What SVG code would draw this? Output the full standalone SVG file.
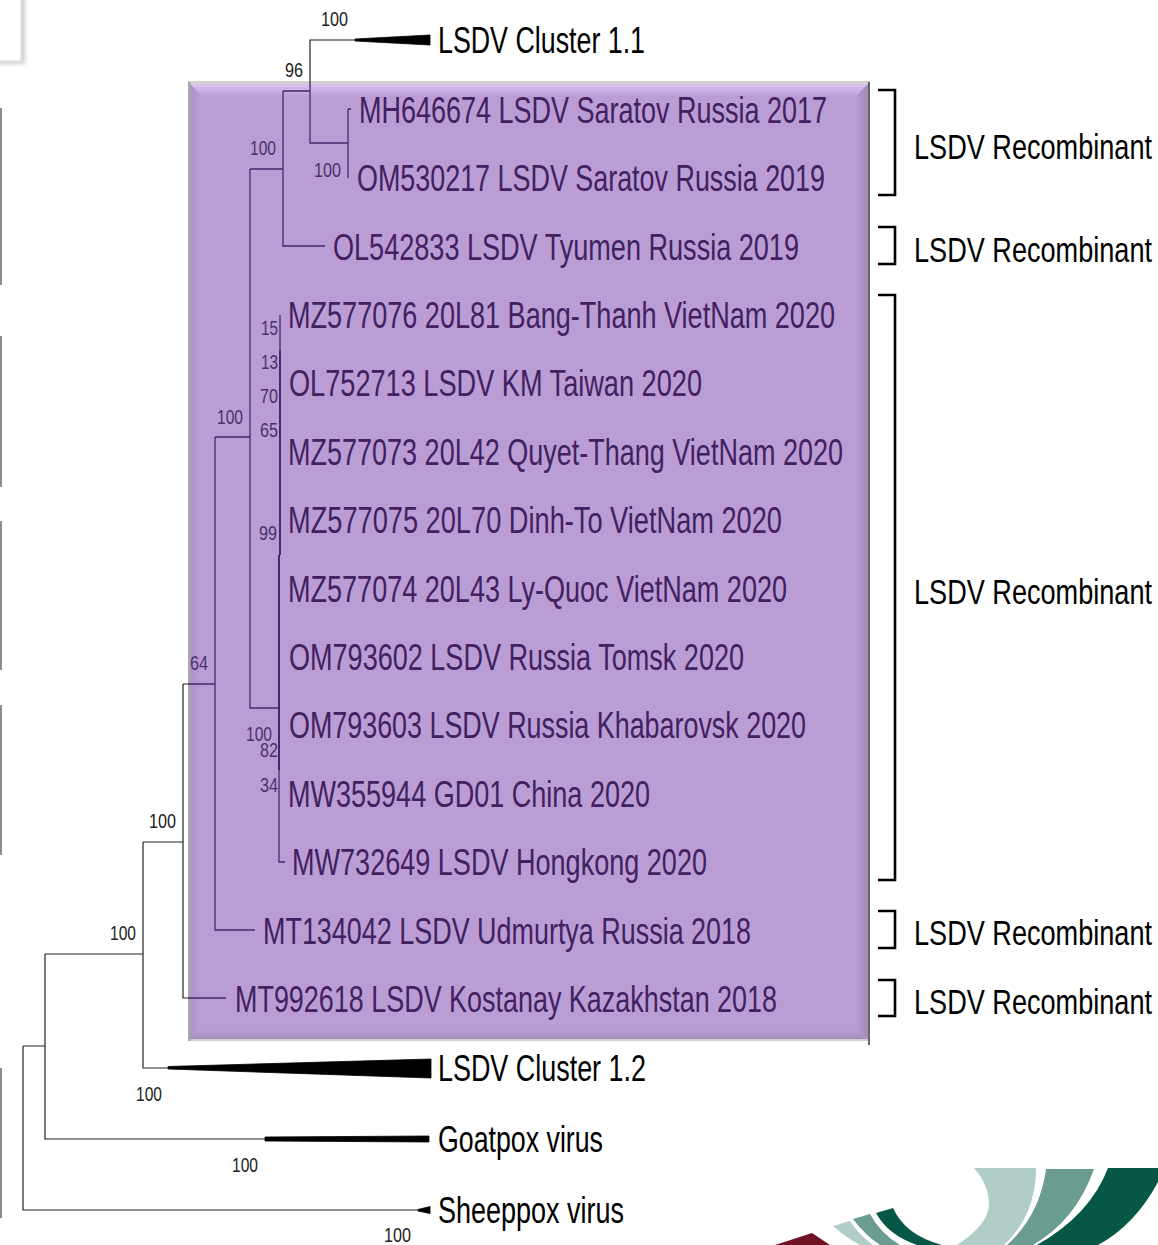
<svg xmlns="http://www.w3.org/2000/svg" width="1158" height="1245" viewBox="0 0 1158 1245">
<style>
.t{font-family:"Liberation Sans",Arial,sans-serif;font-size:36px;fill:#000}
.r{font-family:"Liberation Sans",Arial,sans-serif;font-size:35.5px;fill:#000}
.p{fill:#41215f}
.n{font-family:"Liberation Sans",Arial,sans-serif;font-size:20px;fill:#222}
.q{fill:#4a3168}
.l{fill:none;stroke:#222;stroke-width:1.2}
.i{fill:none;stroke:#44286a;stroke-width:1.3}
.b{fill:none;stroke:#000;stroke-width:2.6}
.w{fill:#000;stroke:#000;stroke-width:.8}
.m{fill:#8c8c8c}
</style>
<defs>
<linearGradient id="top" x1="0" y1="0" x2="0" y2="1"><stop offset="0" stop-color="#dcc4f2"/><stop offset="1" stop-color="#bd9fd9"/></linearGradient>
<linearGradient id="bot" x1="0" y1="0" x2="0" y2="1"><stop offset="0" stop-color="#bb9dd6"/><stop offset="1" stop-color="#a48dba"/></linearGradient>
<linearGradient id="rgt" x1="0" y1="0" x2="1" y2="0"><stop offset="0" stop-color="#bb9dd6"/><stop offset="1" stop-color="#a08ab2"/></linearGradient>
<linearGradient id="lft" x1="0" y1="0" x2="1" y2="0"><stop offset="0" stop-color="#ab90c8"/><stop offset="1" stop-color="#bb9dd6"/></linearGradient>
<filter id="sh" x="-30%" y="-30%" width="160%" height="160%"><feGaussianBlur stdDeviation="2"/></filter>
</defs>

<g id="margin">
<rect x="-10" y="-10" width="35" height="74" fill="#cfcfcf" filter="url(#sh)"/>
<rect x="-10" y="-10" width="31" height="71" fill="#fff" stroke="#e6e6e6" stroke-width="1.5"/>
<rect class="m" x="0" y="108" width="2" height="177"/>
<rect class="m" x="0" y="336" width="2" height="151"/>
<rect class="m" x="0" y="521" width="2" height="149"/>
<rect class="m" x="0" y="705" width="2" height="150"/>
<rect class="m" x="0" y="1068" width="2" height="150"/>
</g>

<g id="logo">
<path d="M974 1168L1036 1168Q1036 1215 1004 1245L957 1245Q988 1225 989 1205Q989 1185 974 1168Z" fill="#b1cdc7"/>
<path d="M1046 1169L1094 1169Q1076 1220 1033 1245L1007 1245Q1040 1215 1046 1169Z" fill="#6b9c90"/>
<path d="M1108 1168L1158 1168L1158 1182Q1135 1225 1098 1245L1037 1245Q1090 1215 1108 1168Z" fill="#065746"/>
<path d="M876 1213L893 1208Q905 1235 942 1245L917 1245Q888 1235 876 1213Z" fill="#065746"/>
<path d="M853 1219L870 1214Q880 1233 900 1245L880 1245Q865 1235 853 1219Z" fill="#6b9c90"/>
<path d="M833 1226L850 1221Q858 1234 873 1245L860 1245Q845 1237 833 1226Z" fill="#b1cdc7"/>
<path d="M775 1245L812 1233L830 1245Z" fill="#6e1423"/>
</g>

<g id="panel">
<rect x="188" y="81" width="682" height="960" fill="#d0d0d0"/>
<rect x="190" y="84" width="678" height="955" fill="#bb9dd6"/>
<polygon points="190,84 868,84 856,96 202,96" fill="url(#top)"/>
<polygon points="190,84 202,96 202,1028 190,1039" fill="url(#lft)"/>
<polygon points="868,84 868,1039 858,1030 856,96" fill="url(#rgt)"/>
<polygon points="190,1039 868,1039 858,1030 200,1030" fill="url(#bot)"/>
<rect x="188" y="82" width="2.500" height="959" fill="#a9a9a9"/>
<rect x="868" y="82" width="2" height="963" fill="#666"/>
</g>

<g id="connectors">
<path class="l" d="M23 1046V1210H418M23 1046H45M45 954V1139H265M45 954H143M143 842V1068H168M143 842H183M183 684V998H188M183 684H188M310 82V40H355"/>
<path class="i" d="M188 684H215M188 998H226M215 437V930H255M215 437H250M250 169V708H279M250 169H283M283 91V246H325M283 91H310M310 82V143H348M348 109V178M348 109H351M280 315V555M279 555V862H285"/>
<path d="M280 350V555M279 555V770" fill="none" stroke="#44286a" stroke-width="2"/>
<polygon class="w" points="355,39 430,35 430,45 355,41"/>
<polygon class="w" points="168,1066.500 431,1059 431,1078 168,1069"/>
<polygon class="w" points="265,1137 429,1136 429,1142 265,1141"/>
<polygon class="w" points="418,1209.500 430,1206.500 430,1213.500 418,1211"/>
</g>

<g id="brackets">
<path class="b" d="M878 90H895V195H878"/>
<path class="b" d="M878 227H895V264H878"/>
<path class="b" d="M878 295H895V880H878"/>
<path class="b" d="M878 911H895V948H878"/>
<path class="b" d="M878 980H895V1016H878"/>
</g>

<g id="support-values">
<text class="n" x="321" y="26" textLength="27" lengthAdjust="spacingAndGlyphs">100</text>
<text class="n" x="285" y="77" textLength="18" lengthAdjust="spacingAndGlyphs">96</text>
<text class="n q" x="250" y="155" textLength="26" lengthAdjust="spacingAndGlyphs">100</text>
<text class="n q" x="314" y="177" textLength="27" lengthAdjust="spacingAndGlyphs">100</text>
<text class="n q" x="261" y="335" textLength="17" lengthAdjust="spacingAndGlyphs">15</text>
<text class="n q" x="261" y="369" textLength="17" lengthAdjust="spacingAndGlyphs">13</text>
<text class="n q" x="260" y="403" textLength="18" lengthAdjust="spacingAndGlyphs">70</text>
<text class="n q" x="260" y="437" textLength="18" lengthAdjust="spacingAndGlyphs">65</text>
<text class="n q" x="217" y="424" textLength="26" lengthAdjust="spacingAndGlyphs">100</text>
<text class="n q" x="259" y="540" textLength="18" lengthAdjust="spacingAndGlyphs">99</text>
<text class="n q" x="190" y="670" textLength="18" lengthAdjust="spacingAndGlyphs">64</text>
<text class="n q" x="246" y="741" textLength="26" lengthAdjust="spacingAndGlyphs">100</text>
<text class="n q" x="260" y="757" textLength="18" lengthAdjust="spacingAndGlyphs">82</text>
<text class="n q" x="260" y="792" textLength="18" lengthAdjust="spacingAndGlyphs">34</text>
<text class="n" x="149" y="828" textLength="27" lengthAdjust="spacingAndGlyphs">100</text>
<text class="n" x="110" y="940" textLength="26" lengthAdjust="spacingAndGlyphs">100</text>
<text class="n" x="136" y="1101" textLength="26" lengthAdjust="spacingAndGlyphs">100</text>
<text class="n" x="232" y="1172" textLength="26" lengthAdjust="spacingAndGlyphs">100</text>
<text class="n" x="384" y="1242" textLength="27" lengthAdjust="spacingAndGlyphs">100</text>
</g>

<g id="taxa">
<text class="t" x="438" y="53" textLength="207" lengthAdjust="spacingAndGlyphs">LSDV Cluster 1.1</text>
<text class="t p" x="359" y="123" textLength="468" lengthAdjust="spacingAndGlyphs">MH646674 LSDV Saratov Russia 2017</text>
<text class="t p" x="357" y="191" textLength="468" lengthAdjust="spacingAndGlyphs">OM530217 LSDV Saratov Russia 2019</text>
<text class="t p" transform="translate(333 260) scale(.75 1)" textLength="621.300" lengthAdjust="spacingAndGlyphs">OL542833 LSDV Tyumen Russia 2019</text>
<text class="t p" x="288" y="328" textLength="547" lengthAdjust="spacingAndGlyphs">MZ577076 20L81 Bang-Thanh VietNam 2020</text>
<text class="t p" x="289" y="396" textLength="413" lengthAdjust="spacingAndGlyphs">OL752713 LSDV KM Taiwan 2020</text>
<text class="t p" x="288" y="465" textLength="555" lengthAdjust="spacingAndGlyphs">MZ577073 20L42 Quyet-Thang VietNam 2020</text>
<text class="t p" x="288" y="533" textLength="494" lengthAdjust="spacingAndGlyphs">MZ577075 20L70 Dinh-To VietNam 2020</text>
<text class="t p" x="288" y="602" textLength="499" lengthAdjust="spacingAndGlyphs">MZ577074 20L43 Ly-Quoc VietNam 2020</text>
<text class="t p" x="289" y="670" textLength="455" lengthAdjust="spacingAndGlyphs">OM793602 LSDV Russia Tomsk 2020</text>
<text class="t p" x="289" y="738" textLength="517" lengthAdjust="spacingAndGlyphs">OM793603 LSDV Russia Khabarovsk 2020</text>
<text class="t p" x="288" y="807" textLength="362" lengthAdjust="spacingAndGlyphs">MW355944 GD01 China 2020</text>
<text class="t p" x="292" y="875" textLength="415" lengthAdjust="spacingAndGlyphs">MW732649 LSDV Hongkong 2020</text>
<text class="t p" transform="translate(263 944) scale(.75 1)" textLength="650.700" lengthAdjust="spacingAndGlyphs">MT134042 LSDV Udmurtya Russia 2018</text>
<text class="t p" transform="translate(235 1012) scale(.75 1)" textLength="722.700" lengthAdjust="spacingAndGlyphs">MT992618 LSDV Kostanay Kazakhstan 2018</text>
<text class="t" x="438" y="1081" textLength="208" lengthAdjust="spacingAndGlyphs">LSDV Cluster 1.2</text>
<text class="t" x="438" y="1152" textLength="165" lengthAdjust="spacingAndGlyphs">Goatpox virus</text>
<text class="t" x="438" y="1223" textLength="186" lengthAdjust="spacingAndGlyphs">Sheeppox virus</text>
</g>

<g id="recombinant-labels">
<text class="r" transform="translate(914 159) scale(.7635 1)">LSDV Recombinant</text>
<text class="r" transform="translate(914 262) scale(.7635 1)">LSDV Recombinant</text>
<text class="r" transform="translate(914 604) scale(.7635 1)">LSDV Recombinant</text>
<text class="r" transform="translate(914 945) scale(.7635 1)">LSDV Recombinant</text>
<text class="r" transform="translate(914 1014) scale(.7635 1)">LSDV Recombinant</text>
</g>
</svg>
